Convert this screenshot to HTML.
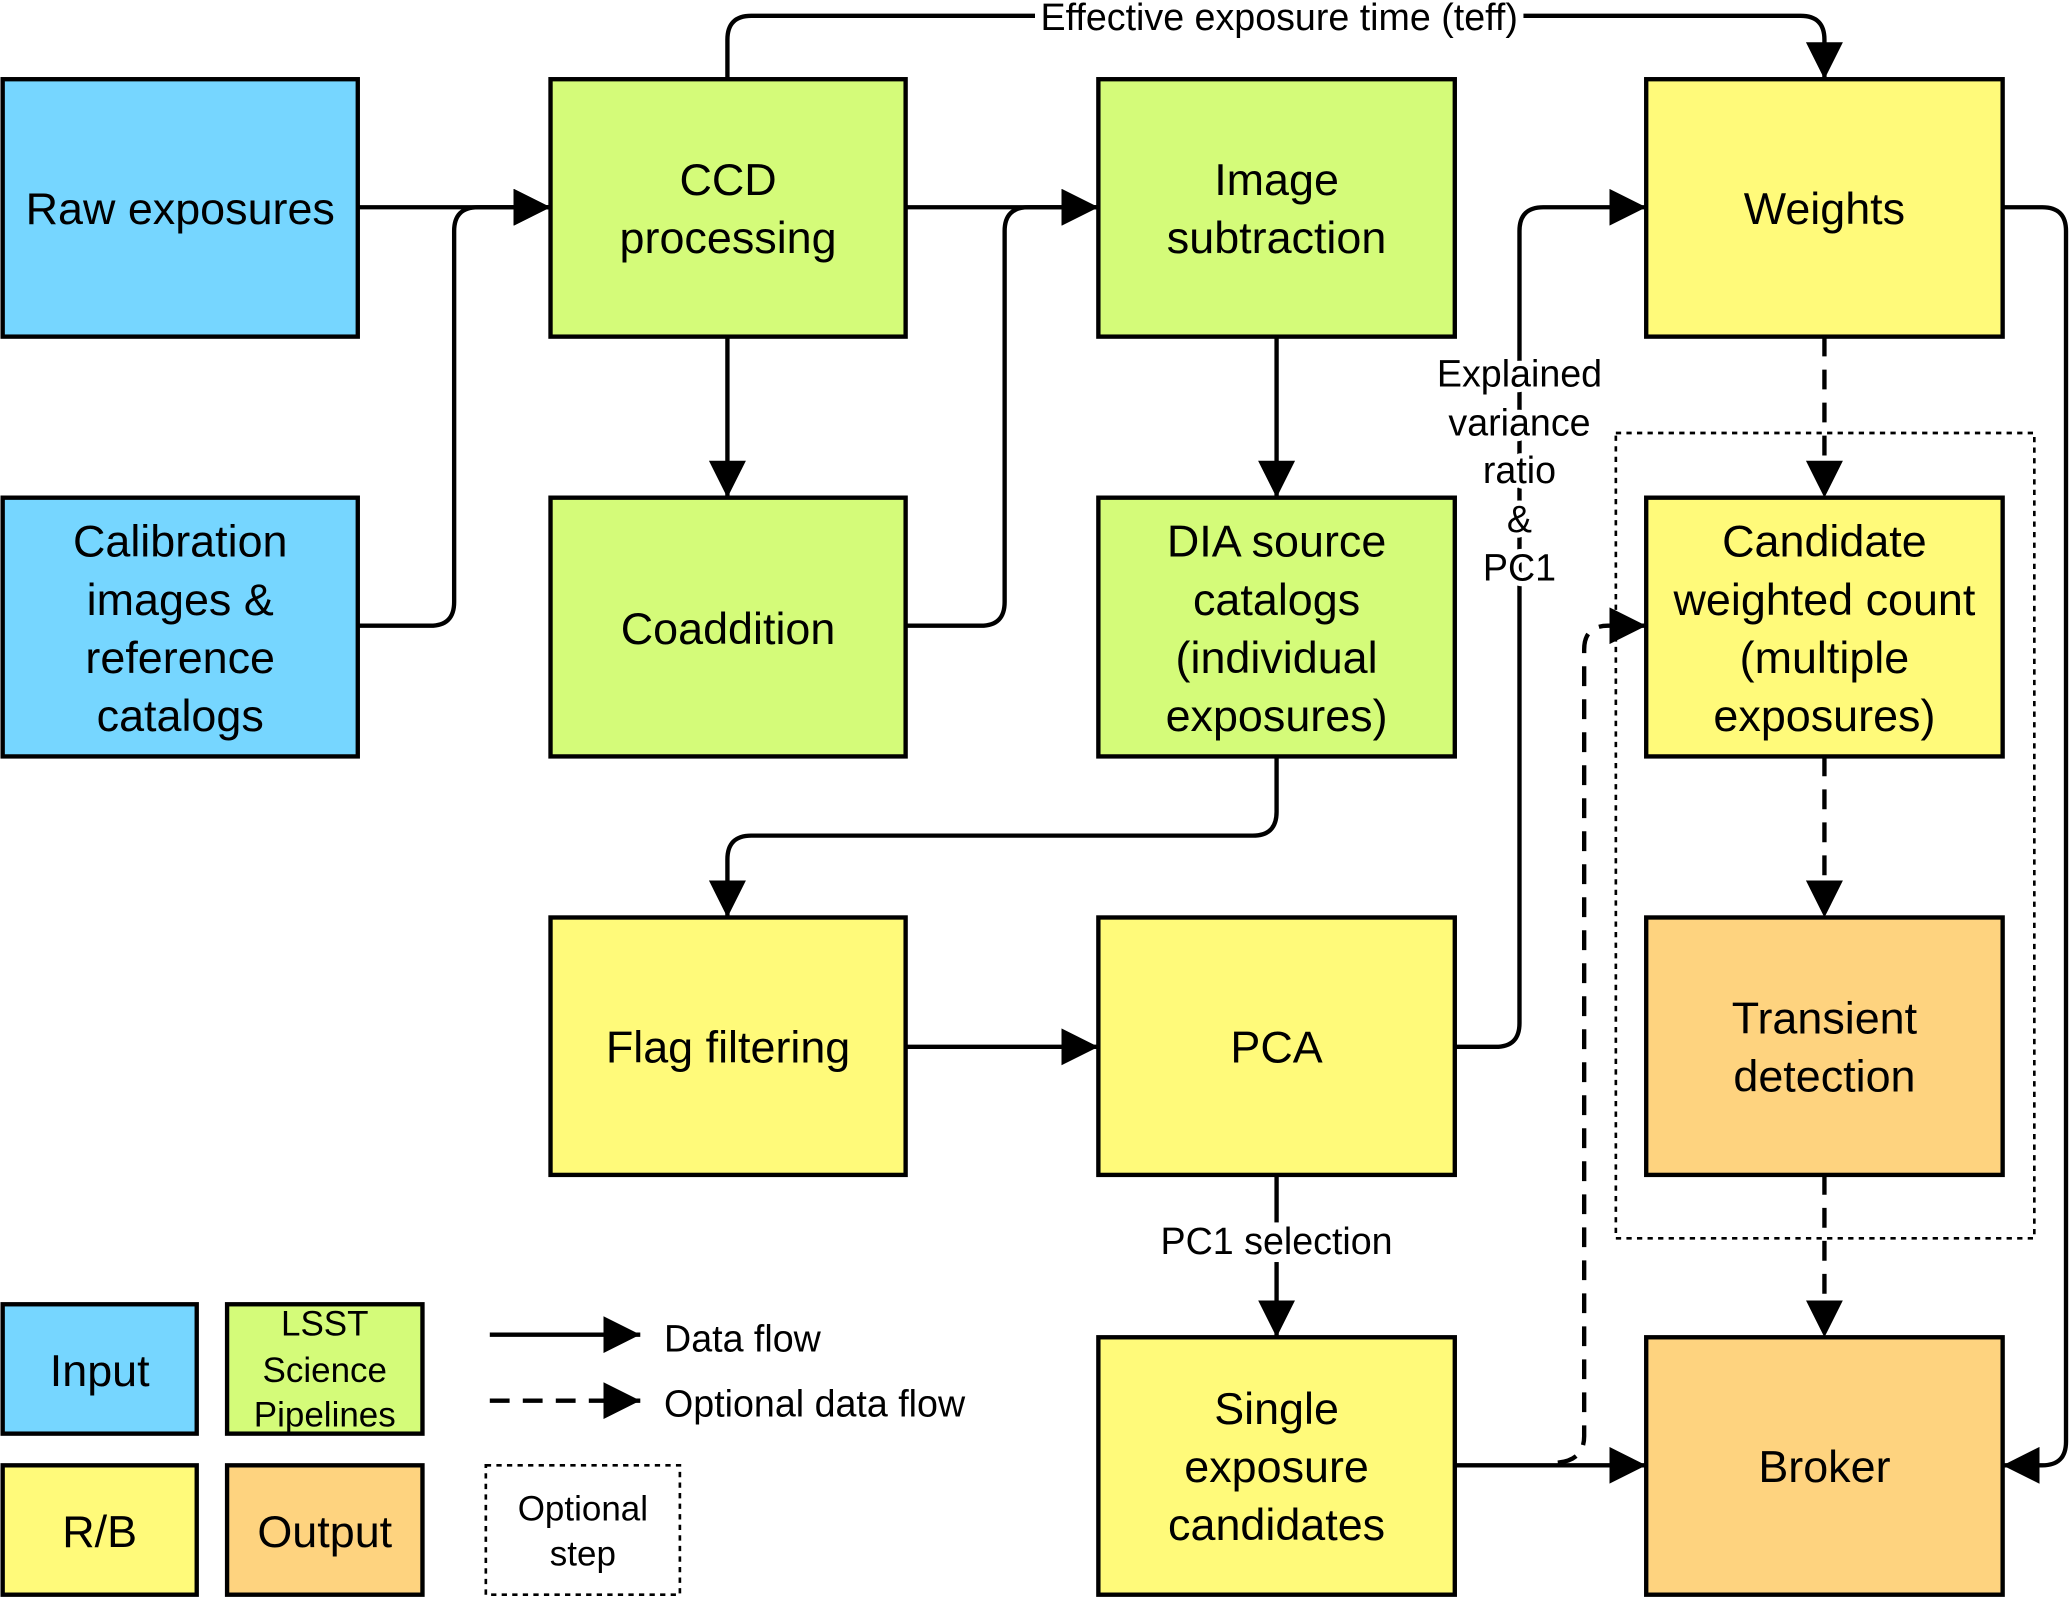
<!DOCTYPE html>
<html><head><meta charset="utf-8"><style>
html,body{margin:0;padding:0;background:#fff;}
svg{display:block;}
text{font-family:"Liberation Sans",Arial,sans-serif;fill:#000;}
.lbl{paint-order:stroke;stroke:#fff;stroke-width:8px;stroke-linejoin:round;}
</style></head><body>
<svg width="2070" height="1598" viewBox="0 0 1568 1210.5" xmlns="http://www.w3.org/2000/svg">
<defs>
<marker id="ah" viewBox="0 0 28 28" refX="28" refY="14" markerWidth="28" markerHeight="28" markerUnits="userSpaceOnUse" orient="auto">
<path d="M0,0 L28,14 L0,28 Z" fill="#000"/>
</marker>
</defs>
<g fill="none" stroke="#000" stroke-width="3.3">
<path d="M271,157 H417" marker-end="url(#ah)"/>
<path d="M271,474 H326 Q344,474 344,456 V175 Q344,157 362,157 H417" marker-end="url(#ah)"/>
<path d="M551,255 V377" marker-end="url(#ah)"/>
<path d="M686,157 H832" marker-end="url(#ah)"/>
<path d="M686,474 H743 Q761,474 761,456 V175 Q761,157 779,157 H832" marker-end="url(#ah)"/>
<path d="M551,60 V30 Q551,12 569,12 H1364 Q1382,12 1382,30 V60" marker-end="url(#ah)"/>
<path d="M967,255 V377" marker-end="url(#ah)"/>
<path d="M967,573 V615 Q967,633 949,633 H569 Q551,633 551,651 V695" marker-end="url(#ah)"/>
<path d="M686,793 H832" marker-end="url(#ah)"/>
<path d="M1102,793 H1133 Q1151,793 1151,775 V175 Q1151,157 1169,157 H1247" marker-end="url(#ah)"/>
<path d="M1517,157 H1547 Q1565,157 1565,175 V1092 Q1565,1110 1547,1110 H1517" marker-end="url(#ah)"/>
<path d="M967,890 V1013" marker-end="url(#ah)"/>
<path d="M1102,1110 H1247" marker-end="url(#ah)"/>
</g>
<g fill="none" stroke="#000" stroke-width="3.3" stroke-dasharray="15,10">
<path d="M1382,255 V377" marker-end="url(#ah)"/>
<path d="M1382,573 V695" marker-end="url(#ah)"/>
<path d="M1382,890 V1013" marker-end="url(#ah)"/>
<path d="M1180,1108 Q1200,1106 1200,1088 V492 Q1200,474 1218,474 H1247" marker-end="url(#ah)"/>
</g>
<rect x="1224" y="328" width="317" height="610" fill="none" stroke="#000" stroke-width="2" stroke-dasharray="4,4"/>
<g stroke="#000" stroke-width="3.3">
<rect x="2" y="60" width="269" height="195" fill="#76d6ff"/>
<rect x="2" y="377" width="269" height="196" fill="#76d6ff"/>
<rect x="417" y="60" width="269" height="195" fill="#d4fb79"/>
<rect x="417" y="377" width="269" height="196" fill="#d4fb79"/>
<rect x="832" y="60" width="270" height="195" fill="#d4fb79"/>
<rect x="832" y="377" width="270" height="196" fill="#d4fb79"/>
<rect x="417" y="695" width="269" height="195" fill="#fffa7a"/>
<rect x="832" y="695" width="270" height="195" fill="#fffa7a"/>
<rect x="832" y="1013" width="270" height="195" fill="#fffa7a"/>
<rect x="1247" y="60" width="270" height="195" fill="#fffa7a"/>
<rect x="1247" y="377" width="270" height="196" fill="#fffa7a"/>
<rect x="1247" y="695" width="270" height="195" fill="#fed37f"/>
<rect x="1247" y="1013" width="270" height="195" fill="#fed37f"/>
<rect x="2" y="988" width="147" height="98" fill="#76d6ff"/>
<rect x="172" y="988" width="148" height="98" fill="#d4fb79"/>
<rect x="2" y="1110" width="147" height="98" fill="#fffa7a"/>
<rect x="172" y="1110" width="148" height="98" fill="#fed37f"/>
</g>
<rect x="368" y="1110" width="147" height="98" fill="none" stroke="#000" stroke-width="2" stroke-dasharray="4,4"/>
<path d="M371,1011 H485" stroke="#000" stroke-width="3.3" marker-end="url(#ah)"/>
<path d="M371,1061 H485" stroke="#000" stroke-width="3.3" stroke-dasharray="15,10" marker-end="url(#ah)"/>
<rect x="784" y="0" width="370" height="26" fill="#fff"/>
<rect x="876" y="926" width="182" height="30" fill="#fff"/>
<g font-size="34" text-anchor="middle" dominant-baseline="central">
<text x="136.5" y="158">Raw exposures</text>
<text x="136.5" y="410">Calibration</text>
<text x="136.5" y="454">images &amp;</text>
<text x="136.5" y="498">reference</text>
<text x="136.5" y="542">catalogs</text>
<text x="551.5" y="136">CCD</text>
<text x="551.5" y="180">processing</text>
<text x="551.5" y="476">Coaddition</text>
<text x="967" y="136">Image</text>
<text x="967" y="180">subtraction</text>
<text x="967" y="410">DIA source</text>
<text x="967" y="454">catalogs</text>
<text x="967" y="498">(individual</text>
<text x="967" y="542">exposures)</text>
<text x="551.5" y="793">Flag filtering</text>
<text x="967" y="793">PCA</text>
<text x="967" y="1067">Single</text>
<text x="967" y="1111">exposure</text>
<text x="967" y="1155">candidates</text>
<text x="1382" y="158">Weights</text>
<text x="1382" y="410">Candidate</text>
<text x="1382" y="454">weighted count</text>
<text x="1382" y="498">(multiple</text>
<text x="1382" y="542">exposures)</text>
<text x="1382" y="771">Transient</text>
<text x="1382" y="815">detection</text>
<text x="1382" y="1111">Broker</text>
<text x="75.5" y="1038">Input</text>
<text x="75.5" y="1160">R/B</text>
<text x="246" y="1160">Output</text>
</g>
<g font-size="28.5" text-anchor="middle" dominant-baseline="central">
<text x="969" y="13">Effective exposure time (teff)</text>
<text class="lbl" x="1151" y="283">Explained</text>
<text class="lbl" x="1151" y="320">variance</text>
<text class="lbl" x="1151" y="356">ratio</text>
<text class="lbl" x="1151" y="393">&amp;</text>
<text class="lbl" x="1151" y="430">PC1</text>
<text x="967" y="940">PC1 selection</text>
</g>
<g font-size="28.5" dominant-baseline="central">
<text x="503" y="1014">Data flow</text>
<text x="503" y="1063">Optional data flow</text>
</g>
<g font-size="26.5" text-anchor="middle" dominant-baseline="central">
<text x="246" y="1003">LSST</text>
<text x="246" y="1038">Science</text>
<text x="246" y="1072">Pipelines</text>
<text x="441.5" y="1143">Optional</text>
<text x="441.5" y="1177">step</text>
</g>
</svg>
</body></html>
